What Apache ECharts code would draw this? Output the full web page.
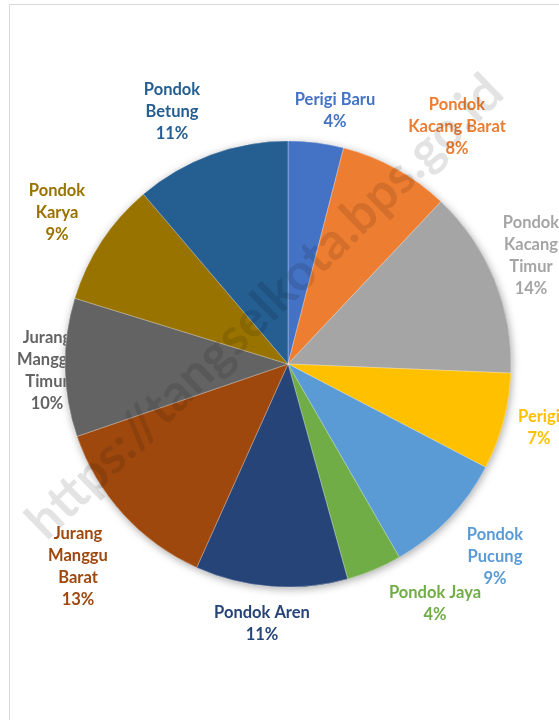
<!DOCTYPE html>
<html>
<head>
<meta charset="utf-8">
<script src="https://cdn.jsdelivr.net/npm/echarts@6/dist/echarts.min.js"></script>
<style>
  html, body { margin: 0; padding: 0; background: #fff; }
  #pie_chart { width: 559px; height: 720px; }
</style>
</head>
<body>
<div id="pie_chart"></div>
<script>
// data kelurahan (persen)
var kelurahan = ['Perigi Baru', 'Pondok Kacang Barat', 'Pondok Kacang Timur', 'Perigi', 'Pondok Pucung',
  'Pondok Jaya', 'Pondok Aren', 'Jurang Manggu Barat', 'Jurang Manggu Timur', 'Pondok Karya', 'Pondok Betung'];
var persen = [4, 8, 13.6, 7, 9, 4, 11, 13, 10, 9, 11.2];
var warna = ['#4472C4', '#ED7D31', '#A5A5A5', '#FFC000', '#5B9BD5', '#70AD47',
  '#264478', '#9E480E', '#636363', '#997300', '#255E91'];

// posisi label (tengah teks), seperti di excel
var labelPos = [[335, 111], [457, 127], [531, 256], [539, 428], [495, 557], [435, 604],
  [262, 624], [78, 567], [47, 371], [57, 213], [172, 112]];
var satuBaris = { 'Perigi Baru': 1, 'Pondok Jaya': 1, 'Pondok Aren': 1 };

var chart = echarts.init(document.getElementById('pie_chart'));

function labelText(p) {
  var nama = p.name;
  if (nama === 'Pondok Kacang Barat') nama = 'Pondok\nKacang Barat';
  else if (!satuBaris[nama]) nama = nama.split(' ').join('\n');
  return nama + '\n' + Math.round(p.percent) + '%';
}

var data = kelurahan.map(function (n, i) {
  return {
    name: n,
    value: persen[i],
    itemStyle: { color: warna[i] },
    label: { color: warna[i] }
  };
});

var option = {
  animation: false,
  graphic: [
    {
      type: 'rect',
      shape: { x: 9.5, y: 4.5, width: 700, height: 800 },
      style: { stroke: '#d9d9d9', fill: 'none', lineWidth: 1 },
      z: 0
    },
    {
      type: 'text',
      x: 265,
      y: 307,
      rotation: 0.77,
      z: 100,
      silent: true,
      style: {
        text: 'https://tangselkota.bps.go.id',
        font: 'bold 51px Lato',
        fill: 'rgba(0,0,0,0.11)',
        align: 'center',
        verticalAlign: 'middle'
      }
    }
  ],
  series: [
    {
      // lapisan bawah: label + bayangan
      type: 'pie',
      z: 1,
      center: [288, 364],
      radius: 223,
      startAngle: 90,
      clockwise: true,
      avoidLabelOverlap: false,
      silent: true,
      itemStyle: {
        shadowBlur: 8,
        shadowColor: 'rgba(0,0,0,0.35)',
        shadowOffsetX: 1,
        shadowOffsetY: 2
      },
      label: {
        show: true,
        position: 'outside',
        formatter: labelText,
        fontFamily: 'Lato',
        fontWeight: 'bold',
        fontSize: 16.5,
        lineHeight: 22,
        align: 'center'
      },
      labelLine: { show: false },
      labelLayout: function (p) {
        var pos = labelPos[p.dataIndex];
        return { x: pos[0], y: pos[1], align: 'center', verticalAlign: 'middle' };
      },
      data: data
    },
    {
      // lapisan atas: irisan pie menutupi label
      type: 'pie',
      z: 3,
      center: [288, 364],
      radius: 223,
      startAngle: 90,
      clockwise: true,
      silent: true,
      itemStyle: { borderColor: 'rgba(255,255,255,0.6)', borderWidth: 0.5 },
      label: { show: false },
      labelLine: { show: false },
      data: data
    }
  ]
};
chart.setOption(option);
</script>
</body>
</html>
